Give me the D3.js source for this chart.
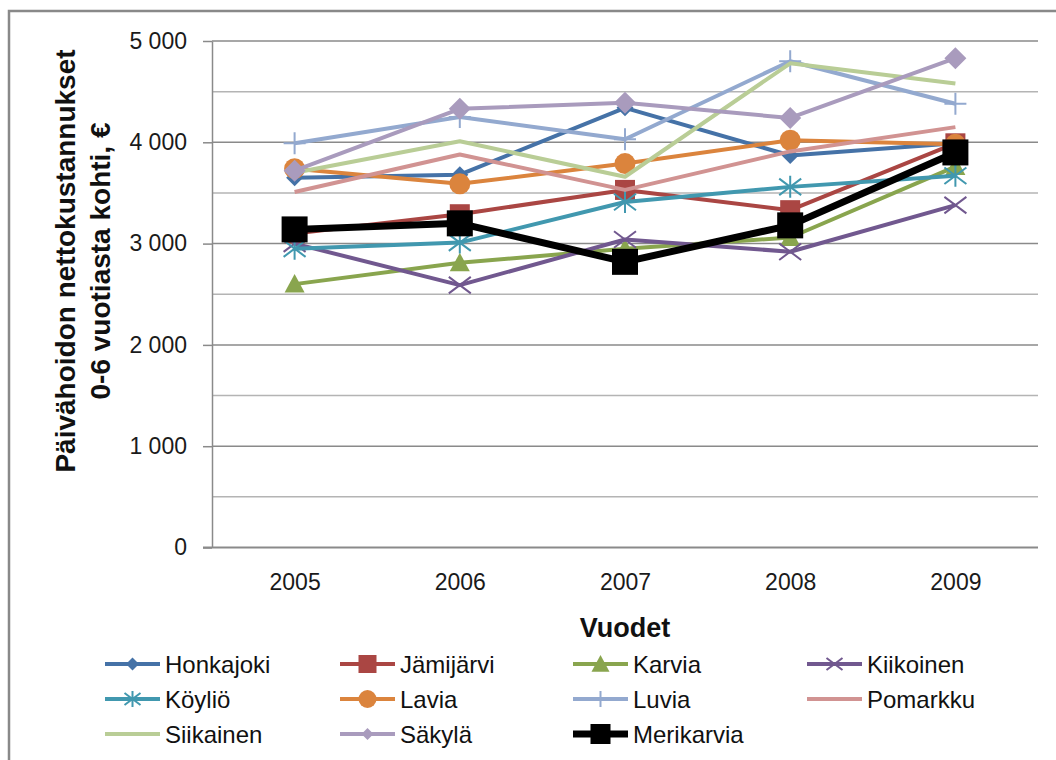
<!DOCTYPE html>
<html>
<head>
<meta charset="utf-8">
<script src="https://cdn.jsdelivr.net/npm/d3@7"></script>
<style>
  html, body { margin: 0; padding: 0; background: #fff; }
  svg { display: block; }
  text { font-family: "Liberation Sans", Arial, sans-serif; }
</style>
</head>
<body>
<svg id="chart" width="1056" height="760"></svg>
<script>
// Years on the horizontal axis
const years = ["2005", "2006", "2007", "2008", "2009"];

// Net day-care costs per 0–6-year-old, € (one array per municipality)
const honkajoki  = [3650, 3680, 4340, 3870, 3990];
const jamijarvi  = [3100, 3290, 3530, 3330, 3990];
const karvia     = [2600, 2810, 2950, 3060, 3760];
const kiikoinen  = [3000, 2590, 3040, 2920, 3380];
const koylio     = [2950, 3010, 3410, 3560, 3670];
const lavia      = [3740, 3590, 3790, 4020, 3980];
const luvia      = [3990, 4250, 4030, 4800, 4380];
const pomarkku   = [3510, 3880, 3530, 3910, 4150];
const siikainen  = [3700, 4010, 3660, 4780, 4580];
const sakyla     = [3720, 4330, 4390, 4240, 4830];
const merikarvia = [3140, 3200, 2820, 3180, 3900];

// Axis ticks
const yTicks = [0, 1000, 2000, 3000, 4000, 5000];
const yTickLabels = ["0", "1 000", "2 000", "3 000", "4 000", "5 000"];
const yMinorTicks = [500, 1500, 2500, 3500, 4500];

// Series definitions (drawn in this order, Merikarvia on top)
const series = [
  { name: "Honkajoki",  values: honkajoki,  color: "#4572A7", marker: "diamond"  },
  { name: "Jämijärvi",  values: jamijarvi,  color: "#AA4643", marker: "square"   },
  { name: "Karvia",     values: karvia,     color: "#89A54E", marker: "triangle" },
  { name: "Kiikoinen",  values: kiikoinen,  color: "#71588F", marker: "x"        },
  { name: "Köyliö",     values: koylio,     color: "#4198AF", marker: "star"     },
  { name: "Lavia",      values: lavia,      color: "#DB843D", marker: "circle"   },
  { name: "Luvia",      values: luvia,      color: "#93A9CF", marker: "plus"     },
  { name: "Pomarkku",   values: pomarkku,   color: "#D19392", marker: "none"     },
  { name: "Siikainen",  values: siikainen,  color: "#B9CD96", marker: "none"     },
  { name: "Säkylä",     values: sakyla,     color: "#A99BBD", marker: "diamond2" },
  { name: "Merikarvia", values: merikarvia, color: "#000000", marker: "bigsquare" }
];

const svg = d3.select("#chart");

// Outer chart frame
svg.append("rect")
  .attr("x", 9).attr("y", 11).attr("width", 1060).attr("height", 760)
  .attr("fill", "none").attr("stroke", "#898989").attr("stroke-width", 2.5);

const plot = { left: 212, right: 1038, top: 41, bottom: 547.5 };

const x = d3.scalePoint().domain(years).range([plot.left, plot.right]).padding(0.5);
const y = d3.scaleLinear().domain([0, 5000]).range([plot.bottom, plot.top]);

// Gridlines
svg.append("g").selectAll("line").data(yMinorTicks).join("line")
  .attr("x1", plot.left).attr("x2", plot.right)
  .attr("y1", d => y(d)).attr("y2", d => y(d))
  .attr("stroke", "#b4b4b4").attr("stroke-width", 1.5);
svg.append("g").selectAll("line").data(yTicks.filter(d => d > 0)).join("line")
  .attr("x1", plot.left).attr("x2", plot.right)
  .attr("y1", d => y(d)).attr("y2", d => y(d))
  .attr("stroke", "#8a8a8a").attr("stroke-width", 1.5);

// Y axis with tick labels
const yAxis = d3.axisLeft(y).tickValues(yTicks)
  .tickFormat((d, i) => yTickLabels[i]).tickSize(9).tickSizeOuter(0).tickPadding(16);
const gy = svg.append("g").attr("transform", `translate(${plot.left},0)`).call(yAxis);
gy.select(".domain").attr("stroke", "#8a8a8a").attr("stroke-width", 1.5);
gy.selectAll(".tick line").attr("stroke", "#8a8a8a").attr("stroke-width", 1.5);
gy.selectAll(".tick text").attr("font-size", 23).attr("fill", "#1a1a1a")
  .attr("font-family", "Liberation Sans, Arial, sans-serif");

// X axis (baseline) with year labels
const xAxis = d3.axisBottom(x).tickSize(0).tickPadding(26);
const gx = svg.append("g").attr("transform", `translate(0,${plot.bottom})`).call(xAxis);
gx.select(".domain").attr("d", `M${plot.left - 9},0H${plot.right}`)
  .attr("stroke", "#8a8a8a").attr("stroke-width", 2);
gx.selectAll(".tick text").attr("font-size", 23).attr("fill", "#1a1a1a")
  .attr("font-family", "Liberation Sans, Arial, sans-serif");

// Axis titles
svg.append("text")
  .attr("x", 625).attr("y", 637)
  .attr("text-anchor", "middle").attr("font-size", 27).attr("font-weight", "bold")
  .attr("fill", "#111").text("Vuodet");

const yTitle = svg.append("text")
  .attr("transform", "rotate(-90)")
  .attr("text-anchor", "middle").attr("font-size", 28).attr("font-weight", "bold")
  .attr("fill", "#111");
yTitle.append("tspan").attr("x", -261).attr("y", 75).text("Päivähoidon nettokustannukset");
yTitle.append("tspan").attr("x", -261).attr("y", 110).text("0-6 vuotiasta kohti, €");

// Marker drawing
function drawMarker(g, type, color, s) {
  const h = s / 2;
  switch (type) {
    case "diamond":
    case "diamond2":
      g.append("path").attr("d", `M0,${-h}L${h},0L0,${h}L${-h},0Z`).attr("fill", color);
      break;
    case "square":
    case "bigsquare":
      g.append("rect").attr("x", -h).attr("y", -h).attr("width", s).attr("height", s).attr("fill", color);
      break;
    case "triangle":
      g.append("path").attr("d", `M0,${-h}L${h},${h * 0.85}L${-h},${h * 0.85}Z`).attr("fill", color);
      break;
    case "circle":
      g.append("circle").attr("r", h).attr("fill", color);
      break;
    case "x":
      g.append("path").attr("d", `M${-h},${-h * 0.75}L${h},${h * 0.75}M${-h},${h * 0.75}L${h},${-h * 0.75}`)
        .attr("stroke", color).attr("stroke-width", 2).attr("fill", "none");
      break;
    case "star":
      g.append("path").attr("d", `M${-h},${-h * 0.75}L${h},${h * 0.75}M${-h},${h * 0.75}L${h},${-h * 0.75}M0,${-h}L0,${h}`)
        .attr("stroke", color).attr("stroke-width", 2).attr("fill", "none");
      break;
    case "plus":
      g.append("path").attr("d", `M${-h},0L${h},0M0,${-h}L0,${h}`)
        .attr("stroke", color).attr("stroke-width", 2).attr("fill", "none");
      break;
  }
}

const markerSize = { diamond: 17, diamond2: 22, square: 20, bigsquare: 26, triangle: 20, circle: 21, x: 22, star: 22, plus: 22, none: 0 };
const legendMarkerSize = { diamond: 13, diamond2: 12, square: 18, bigsquare: 20, triangle: 18, circle: 18, x: 16, star: 16, plus: 16, none: 0 };

const line = d3.line().x((d, i) => x(years[i])).y(d => y(d));

const linesG = svg.append("g");
series.forEach(s => {
  const g = linesG.append("g");
  const isMain = s.name === "Merikarvia";
  g.append("path")
    .attr("d", line(s.values))
    .attr("fill", "none")
    .attr("stroke", s.color)
    .attr("stroke-width", isMain ? 7 : 4)
    .attr("stroke-linejoin", "round");
  s.values.forEach((v, i) => {
    const m = g.append("g").attr("transform", `translate(${x(years[i])},${y(v)})`);
    drawMarker(m, s.marker, s.color, markerSize[s.marker]);
  });
});

// Legend: 4 columns, 3 rows
const legendCols = [105, 340, 573, 807];
const legendRows = [664, 699, 734];
const legendG = svg.append("g");
series.forEach((s, i) => {
  const cx = legendCols[i % 4];
  const cy = legendRows[Math.floor(i / 4)];
  const g = legendG.append("g").attr("transform", `translate(${cx},${cy})`);
  const isMain = s.name === "Merikarvia";
  g.append("line").attr("x1", 0).attr("x2", 55).attr("y1", 0).attr("y2", 0)
    .attr("stroke", s.color).attr("stroke-width", isMain ? 7 : 4);
  const m = g.append("g").attr("transform", "translate(27.5,0)");
  drawMarker(m, s.marker, s.color, legendMarkerSize[s.marker]);
  g.append("text").attr("x", 60).attr("y", 8.5)
    .attr("font-size", 24).attr("fill", "#111").text(s.name);
});
</script>
</body>
</html>
